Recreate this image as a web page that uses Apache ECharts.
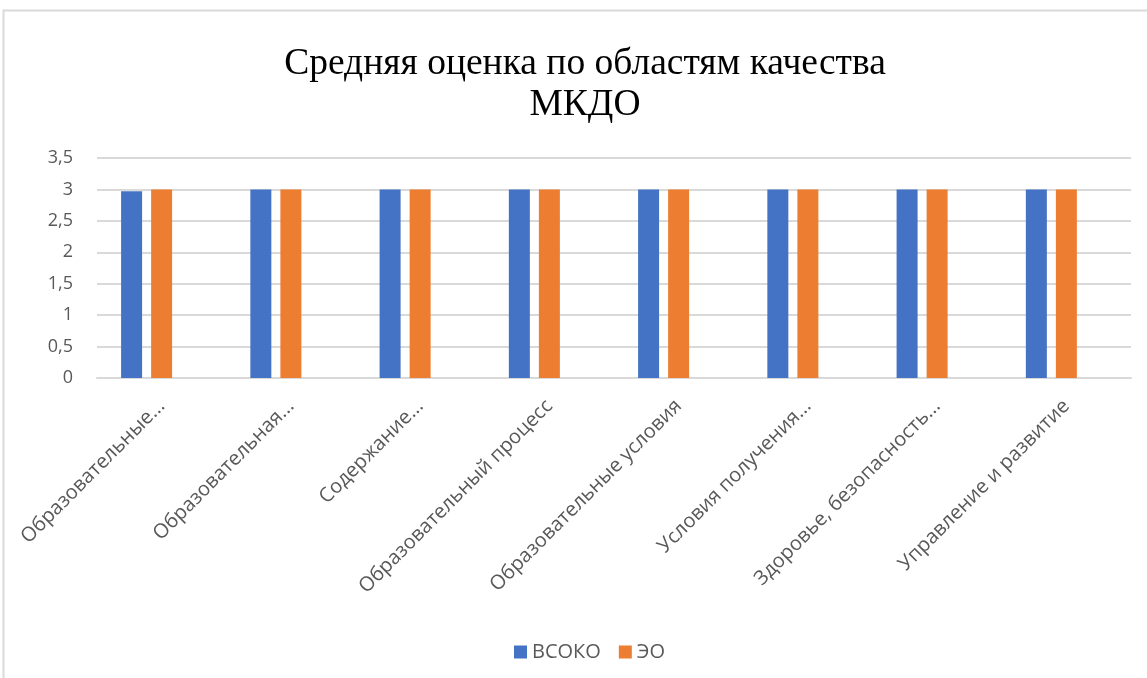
<!DOCTYPE html>
<html>
<head>
<meta charset="utf-8">
<script src="https://cdn.jsdelivr.net/npm/echarts@6/dist/echarts.min.js"></script>
<style>
  html, body { margin: 0; padding: 0; background: #fff; }
  #chart { width: 1147px; height: 678px; }
</style>
</head>
<body>
<div id="chart"></div>
<script>
// данные диаграммы
const categories = [
  'Образовательные...',
  'Образовательная...',
  'Содержание...',
  'Образовательный процесс',
  'Образовательные условия',
  'Условия получения...',
  'Здоровье, безопасность...',
  'Управление и развитие'
]
const vsokoValues = [2.97, 3, 3, 3, 3, 3, 3, 3]
const eoValues = [3, 3, 3, 3, 3, 3, 3, 3]
// третий ряд в исходнике пустой, но место под него занято
const emptyValues = [null, null, null, null, null, null, null, null]
const yTicks = [0, 0.5, 1, 1.5, 2, 2.5, 3, 3.5]

const chart = echarts.init(document.getElementById('chart'))
const labelFont = '"Open Sans", "Noto Sans", sans-serif'

chart.setOption({
  animation: false,
  backgroundColor: '#fff',
  title: {
    text: 'Средняя оценка по областям качества\nМКДО',
    left: 580,
    top: 39,
    textAlign: 'center',
    textStyle: {
      fontFamily: '"Liberation Serif", "DejaVu Serif", serif',
      fontWeight: 'normal',
      fontSize: 37.5,
      lineHeight: 41,
      color: '#000'
    }
  },
  graphic: [
    {
      type: 'rect',
      silent: true,
      shape: { x: 3.5, y: 10.5, width: 1170, height: 700 },
      style: { fill: 'none', stroke: '#d9d9d9', lineWidth: 2 }
    }
  ],
  legend: {
    data: ['ВСОКО', 'ЭО'],
    left: 509,
    top: 637,
    itemWidth: 13,
    itemHeight: 13,
    itemGap: 18,
    icon: 'rect',
    textStyle: { fontFamily: labelFont, fontSize: 20, color: '#595959' }
  },
  grid: {
    left: 97,
    right: 16,
    top: 158,
    bottom: 300,
    containLabel: false
  },
  xAxis: {
    type: 'category',
    data: categories,
    axisLine: { lineStyle: { color: '#d9d9d9', width: 2 } },
    axisTick: { show: false },
    axisLabel: {
      rotate: 45,
      interval: 0,
      margin: 25,
      fontFamily: labelFont,
      fontSize: 20,
      color: '#595959'
    }
  },
  yAxis: {
    type: 'value',
    min: 0,
    max: 3.5,
    interval: 0.5,
    axisLine: { show: false },
    axisTick: { show: false },
    splitLine: { lineStyle: { color: '#d9d9d9', width: 2 } },
    axisLabel: {
      margin: 24,
      fontFamily: labelFont,
      fontSize: 18,
      color: '#595959',
      formatter: v => (yTicks.includes(v) ? String(v).replace('.', ',') : '')
    }
  },
  series: [
    {
      name: 'ВСОКО',
      type: 'bar',
      data: vsokoValues,
      barWidth: 21,
      barGap: '43%',
      itemStyle: { color: '#4472C4' }
    },
    {
      name: 'ЭО',
      type: 'bar',
      data: eoValues,
      barWidth: 21,
      barGap: '43%',
      itemStyle: { color: '#ED7D31' }
    },
    {
      name: 'Ряд 3',
      type: 'bar',
      data: emptyValues,
      barWidth: 21,
      barGap: '43%',
      itemStyle: { color: '#A5A5A5' }
    }
  ]
})
</script>
</body>
</html>
